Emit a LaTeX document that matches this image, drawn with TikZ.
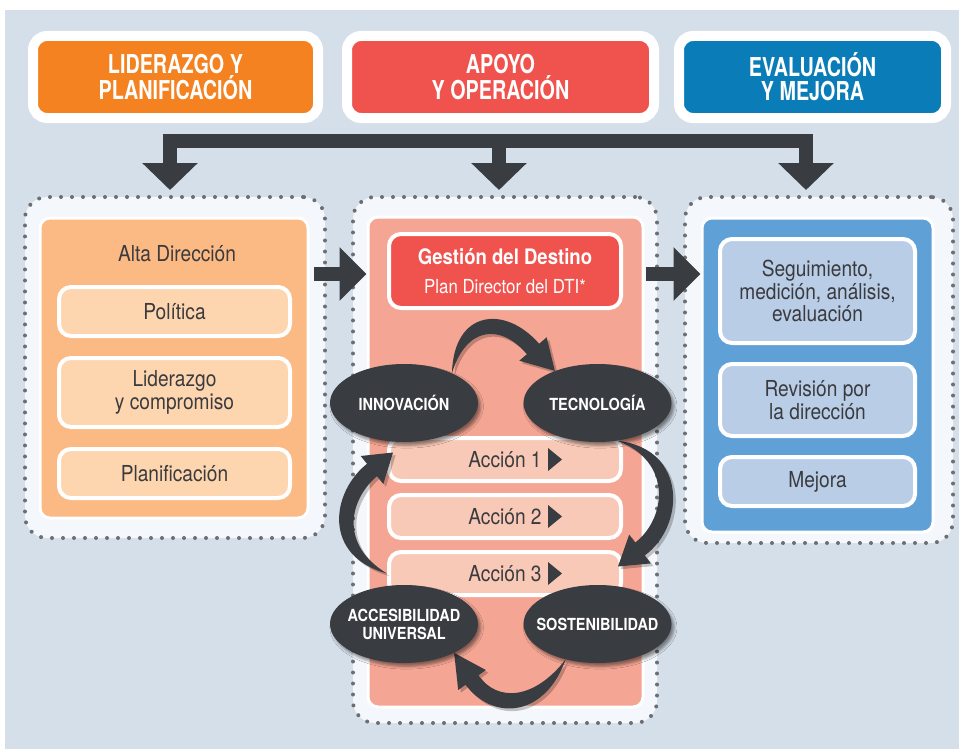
\documentclass[tikz,border=0pt]{standalone}
\usepackage{fontspec}
\setmainfont{TeX Gyre Heros}[FakeStretch=0.87]
\newfontfamily\headfont{TeX Gyre Heros}[FakeStretch=0.76]
\usetikzlibrary{arrows.meta,shapes.geometric,shadows.blur,calc}

\definecolor{bgblue}{HTML}{D5DFEA}
\definecolor{framefill}{HTML}{F4F7FB}
\definecolor{dotgray}{HTML}{6D6E71}
\definecolor{darkgray}{HTML}{393C41}
\definecolor{textgray}{HTML}{3A3B3E}
\definecolor{hdorange}{HTML}{F58220}
\definecolor{hdred}{HTML}{F0534E}
\definecolor{hdblue}{HTML}{0A7DB8}
\definecolor{panorange}{HTML}{FBB984}
\definecolor{boxorange}{HTML}{FDD5AF}
\definecolor{pansalmon}{HTML}{F5A593}
\definecolor{boxsalmon}{HTML}{F9C9B8}
\definecolor{panblue}{HTML}{5FA0D7}
\definecolor{boxblue}{HTML}{B9CDE7}

\pgfdeclarelayer{top}
\pgfsetlayers{main,top}

\def\Lx{174.5}
\def\Mx{505}
\def\Rx{817.5}

\begin{document}
\begin{tikzpicture}[x=0.75pt, y=-0.75pt,
    header/.style={draw=white, line width=7.5pt, rounded corners=10.5pt, minimum height=61.5pt, inner sep=0pt,
        text=white, align=center, font=\headfont\bfseries\fontsize{19.5}{18}\selectfont},
    frame/.style={draw=dotgray, fill=framefill, line width=3pt, line cap=round, dash pattern=on 0pt off 8.25pt, rounded corners=16.5pt},
    panel/.style={draw=white, line width=2.25pt, rounded corners=7.5pt},
    subbox/.style={draw=white, line width=3pt, rounded corners=9pt, inner sep=0pt, text=textgray, align=center,
        font=\fontsize{16.5}{17}\selectfont},
    lbox/.style={subbox, fill=boxorange, minimum width=173.25pt},
    rbox/.style={subbox, fill=boxblue, minimum width=146.25pt},
    abox/.style={subbox, fill=boxsalmon, minimum width=174pt, minimum height=32.25pt},
    gbox/.style={subbox, fill=hdred, minimum width=174pt, minimum height=55.5pt, text=white, font=\fontsize{14.5}{21.5}\selectfont},
    cyc/.style={ellipse, fill=darkgray, minimum width=111pt, minimum height=58.5pt, inner sep=0pt,
        blur shadow={shadow xshift=2pt, shadow yshift=-2.5pt, shadow opacity=45}},
    ctext/.style={text=white, align=center, font=\bfseries\fontsize{12.5}{13.5}\selectfont},
    bigline/.style={draw=darkgray, line width=10.5pt},
    cycarrow/.style={fill=darkgray, preaction={fill=black, opacity=0.22, transform canvas={shift={(2pt,-2pt)}}}}]

    \useasboundingbox (0,0) rectangle (959,749);
    \fill[white] (0,0) rectangle (959,749);
    \fill[bgblue] (5,10) rectangle (959,749);

    \node[header, fill=hdorange, minimum width=213.75pt] (lid) at (175.5,77) {LIDERAZGO Y\\PLANIFICACIÓN};
    \node[header, fill=hdred, minimum width=230.25pt] (apo) at (500.5,77) {APOYO\\Y OPERACIÓN};
    \node[header, fill=hdblue, minimum width=200.25pt] (eva) at (812.5,77) {EVALUACIÓN\\Y MEJORA};

    \coordinate (jl) at (170,141);
    \coordinate (jm) at (499,141);
    \coordinate (jr) at (806,141);
    \coordinate (tl) at (170,190);
    \coordinate (tm) at (499,190);
    \coordinate (tr) at (806,190);
    \draw[bigline, {Triangle[width=40.5pt, length=20.25pt]}-{Triangle[width=40.5pt, length=20.25pt]}] (tl) -- (jl) -- (jr) -- (tr);
    \draw[bigline, -{Triangle[width=40.5pt, length=20.25pt]}] (jm) -- (tm);

    \node[frame, minimum width=225pt, minimum height=255.75pt] (fl) at (175,367.5) {};
    \node[frame, minimum width=228pt, minimum height=394.5pt] (fm) at (505,460) {};
    \node[frame, minimum width=201pt, minimum height=259.5pt] (fr) at (819,370) {};

    \node[panel, fill=panorange, minimum width=201pt, minimum height=225pt] (lp) at (174,368) {};
    \node[panel, fill=pansalmon, minimum width=206.25pt, minimum height=367.5pt] (mp) at (505.5,462) {};
    \node[panel, fill=panblue, minimum width=173.25pt, minimum height=235.5pt] (rp) at (\Rx,375) {};

    \node[text=textgray, font=\fontsize{16.5}{17}\selectfont] (alta) at (177,254) {Alta Dirección};
    \node[lbox, minimum height=36.75pt] (pol) at (\Lx,311.5) {Política};
    \node[lbox, minimum height=51.75pt] (lider) at (\Lx,392.5) {Liderazgo\\y compromiso};
    \node[lbox, minimum height=36.75pt] (plan) at (\Lx,473.5) {Planificación};

    \node[gbox] (gest) at (\Mx,271) {{\bfseries\fontsize{16}{21.5}\selectfont Gestión del Destino}\\Plan Director del DTI*};
    \node[abox] (a1) at (\Mx,459.5) {Acción 1};
    \node[abox] (a2) at (\Mx,516.5) {Acción 2};
    \node[abox] (a3) at (\Mx,573.5) {Acción 3};
    \foreach \n in {a1,a2,a3}
        \fill[darkgray] ($(\n)+(43,-11.5)$) -- ++(14,11.5) -- ++(-14,11.5) -- cycle;

    \node[rbox, minimum height=78pt] (seg) at (\Rx,291) {Seguimiento,\\medición, análisis,\\evaluación};
    \node[rbox, minimum height=54pt] (rev) at (\Rx,400) {Revisión por\\la dirección};
    \node[rbox, minimum height=36.75pt] (mej) at (\Rx,481.5) {Mejora};

    \coordinate (h1) at (314,274);
    \coordinate (h2) at (646,274);
    \draw[bigline, -{Triangle[width=39pt, length=20.25pt]}] (h1) -- (mp.west |- h1);
    \draw[bigline, -{Triangle[width=39pt, length=20.25pt]}] (h2) -- (rp.west |- h2);

    \begin{pgfonlayer}{top}
        \node[cyc, label={[ctext]center:INNOVACIÓN}] (inn) at (404,403) {};
        \node[cyc, label={[ctext]center:TECNOLOGÍA}] (tec) at (597.5,403) {};
        \node[cyc, label={[ctext]center:ACCESIBILIDAD\\UNIVERSAL}] (acc) at (404,624) {};
        \node[cyc, label={[ctext]center:SOSTENIBILIDAD}] (sos) at (597.5,624) {};
    \end{pgfonlayer}

    \coordinate (a3in) at ($(a3.east)+(-5,-7)$);
    \coordinate (a1in) at ($(a1.west)+(6,-7)$);
    \fill[cycarrow] (inn.32) .. controls (453.6,310.3) and (504.7,304.2) .. (539.1,343.8) -- (546.7,337.3)
        -- (tec.143) -- (519.3,360.7) -- (526.9,354.2) .. controls (501.3,323.8) and (466.4,325.7) .. (inn.32) -- cycle;
    \fill[cycarrow] (tec.-62) .. controls (687.7,448.7) and (685.2,526) .. (644.8,555.4) -- (650.8,563.4)
        -- (a3in) -- (629.2,534.6) -- (635.2,542.6) .. controls (666.8,518) and (672.3,461.3) .. (tec.-62) -- cycle;
    \fill[cycarrow] (sos.228) .. controls (545.5,716.3) and (494,722.3) .. (465.5,684.7) -- (458.2,690)
        -- (acc.-30) -- (485.8,670) -- (478.5,675.3) .. controls (497.2,702.5) and (534.5,699.7) .. (sos.228) -- cycle;
    \fill[cycarrow] (a3.west) .. controls (321.9,555.9) and (331.3,492) .. (367,463.8) -- (360.7,456)
        -- (a1in) -- (383.3,484) -- (377,476.2) .. controls (350.3,498.4) and (338.1,544.1) .. (a3.west) -- cycle;
\end{tikzpicture}
\end{document}
